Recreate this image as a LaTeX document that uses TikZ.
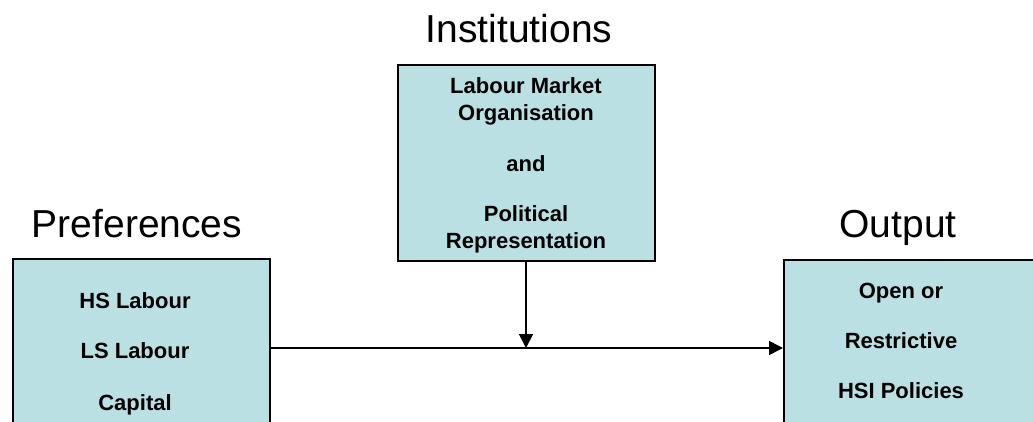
\documentclass[tikz,border=0pt]{standalone}
\usepackage{fontspec}
\setmainfont{Liberation Sans}
\usetikzlibrary{arrows.meta}
\definecolor{boxfill}{HTML}{BAE0E3}
\begin{document}
\begin{tikzpicture}[x=1pt,y=-1pt,
  box/.style={draw=black,line width=2pt,fill=boxfill,anchor=north west,inner sep=0pt},
  heading/.style={font=\fontsize{39}{45}\selectfont,anchor=base,inner sep=0pt},
  item/.style={font=\fontsize{22}{26}\selectfont\bfseries,text height=16pt,text depth=0pt,inner sep=0pt,anchor=center},
  conn/.style={line width=1.6pt,-{Triangle[length=14pt,width=14pt]}}]
\useasboundingbox (0,0) rectangle (1033,421);
\clip (0,0) rectangle (1033,421);
% boxes
\node[box,minimum width=257pt,minimum height=196pt] (inst) at (397,64) {};
\node[box,minimum width=257pt,minimum height=200pt] (pref) at (12,258) {};
\node[box,minimum width=270pt,minimum height=200pt] (out) at (783,259) {};
% headings
\node[heading] (hinst) at (519,42) {Institutions};
\node[heading] (hpref) at (137,237) {Preferences};
\node[heading] (hout) at (898,237) {Output};
% middle box text
\node[item] (i1) at (526,85) {Labour Market};
\node[item] (i2) at (526,112) {Organisation};
\node[item] (i3) at (526,163) {and};
\node[item] (i4) at (526,213) {Political};
\node[item] (i5) at (526,240) {Representation};
% left box text
\node[item] (p1) at (135,300) {HS Labour};
\node[item] (p2) at (135,350) {LS Labour};
\node[item] (p3) at (135,402) {Capital};
% right box text
\node[item] (o1) at (901,290) {Open or};
\node[item] (o2) at (901,340) {Restrictive};
\node[item] (o3) at (901,390) {HSI Policies};
% connectors
\coordinate (start) at (269,348);
\coordinate (meet) at (526,348);
\draw[conn] (start) -- (start -| out.west);
\draw[conn] (inst.south -| meet) -- (meet);
\end{tikzpicture}
\end{document}
